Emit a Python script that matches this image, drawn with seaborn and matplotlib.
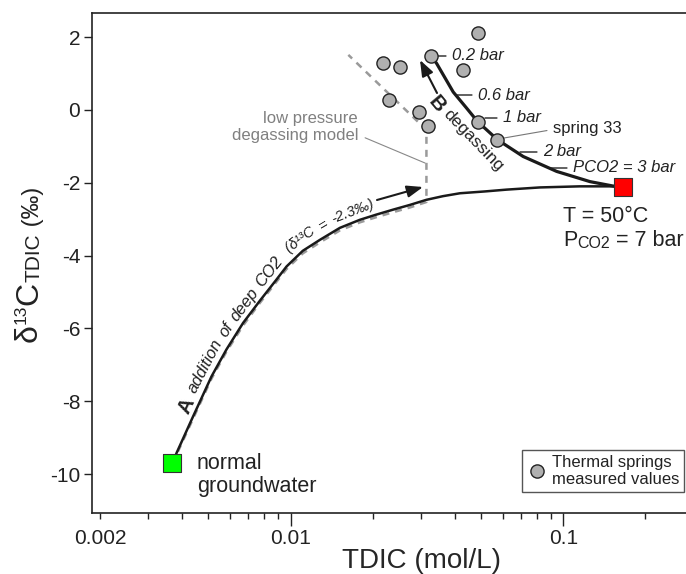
import numpy as np
import matplotlib
matplotlib.use("Agg")
import matplotlib.pyplot as plt
import matplotlib.transforms as mtransforms
from matplotlib.lines import Line2D
import seaborn as sns

# thermal springs, measured values (TDIC mol/L, d13C permil)
spring_tdic = [0.0488, 0.0327, 0.0219, 0.0253, 0.0428, 0.0230, 0.0296, 0.0320, 0.0485, 0.0574]
spring_d13c = [2.10, 1.48, 1.28, 1.19, 1.10, 0.27, -0.07, -0.44, -0.32, -0.82]

# end members
gw_tdic, gw_d13c = [0.00369], [-9.71]        # normal groundwater
deep_tdic, deep_d13c = [0.165], [-2.12]      # T = 50 C, PCO2 = 7 bar

# A: addition of deep CO2
mix_tdic = [0.00369, 0.00382, 0.00439, 0.00513, 0.00582, 0.00670, 0.00772, 0.00888, 0.00967,
            0.01109, 0.01281, 0.01517, 0.01794, 0.02055, 0.02377, 0.0274, 0.0315, 0.0362,
            0.0418, 0.0516, 0.0620, 0.0821, 0.115, 0.152, 0.165]
mix_d13c = [-9.71, -9.42, -8.42, -7.32, -6.58, -5.85, -5.24, -4.66, -4.30,
            -3.87, -3.57, -3.24, -3.02, -2.88, -2.74, -2.61, -2.47, -2.37,
            -2.29, -2.24, -2.19, -2.13, -2.10, -2.10, -2.12]

# low pressure degassing model (dashed)
lp_tdic = [0.00369, 0.00439, 0.00513, 0.00582, 0.00670, 0.00772, 0.00888, 0.00967, 0.01109,
           0.01281, 0.01517, 0.01794, 0.02055, 0.02377, 0.0274, 0.0315, 0.0315, 0.01629]
lp_d13c = [-9.71, -8.48, -7.38, -6.64, -5.92, -5.30, -4.72, -4.37, -3.94,
           -3.64, -3.31, -3.09, -2.95, -2.81, -2.68, -2.53, -0.55, 1.51]

# B: degassing
deg_tdic = [0.165, 0.152, 0.1253, 0.0946, 0.0713, 0.0574, 0.0485, 0.0442, 0.0395, 0.0343, 0.0327]
deg_d13c = [-2.12, -2.09, -1.97, -1.69, -1.28, -0.82, -0.32, 0.05, 0.49, 1.28, 1.48]

pressure_labels = ["0.2 bar", "0.6 bar", "1 bar", "2 bar", "PCO2 = 3 bar"]

sns.set_theme(style="ticks")
plt.rcParams["font.family"] = ["Liberation Sans", "DejaVu Sans"]
plt.rcParams["text.color"] = "#222222"
plt.rcParams["axes.unicode_minus"] = False

W, H = 686, 574
fig = plt.figure(figsize=(W / 100, H / 100), dpi=100)
ax = fig.add_axes([92 / W, (H - 513) / H, 594 / W, 500 / H])
ax.set_xscale("log")


def at(px, py):
    # reference pixel position -> axes fraction
    return ((px - 92) / 594, (513 - py) / 500)


sns.lineplot(x=lp_tdic, y=lp_d13c, sort=False, estimator=None, color="#9a9a9a",
             lw=1.8, linestyle=(0, (2.8, 2.4)), ax=ax)
sns.lineplot(x=mix_tdic, y=mix_d13c, sort=False, estimator=None, color="#1a1a1a", lw=1.8, ax=ax)
sns.lineplot(x=deg_tdic, y=deg_d13c, sort=False, estimator=None, color="#1a1a1a", lw=2.3, ax=ax)
sns.scatterplot(x=spring_tdic, y=spring_d13c, s=90, color="#b0b0b0", edgecolor="#222222",
                linewidth=1, zorder=5, ax=ax)
sns.scatterplot(x=gw_tdic, y=gw_d13c, marker="s", s=160, color="#00ff00", edgecolor="#333333",
                linewidth=0.8, zorder=6, ax=ax)
sns.scatterplot(x=deep_tdic, y=deep_d13c, marker="s", s=160, color="#ff0000", edgecolor="#333333",
                linewidth=0.8, zorder=6, ax=ax)

ax.set_xlim(0.00187, 0.282)
ax.set_ylim(-11.07, 2.66)

# axes and ticks
ax.spines["right"].set_visible(False)
for s in ["left", "bottom", "top"]:
    ax.spines[s].set_linewidth(1.2)
    ax.spines[s].set_color("#222222")
ax.set_xticks([0.01, 0.1], ["0.01", "0.1"])
minor = [k * 10.0 ** e for e in (-3, -2, -1) for k in range(2, 10)]
minor = [m for m in minor if 0.00187 < m < 0.282]
ax.set_xticks(minor, ["0.002" if abs(m - 0.002) < 1e-9 else "" for m in minor], minor=True)
ax.set_yticks([2, 0, -2, -4, -6, -8, -10])
ax.tick_params(axis="x", which="major", length=9.5, width=1, pad=2, labelsize=15,
               colors="#222222", top=False)
ax.tick_params(axis="x", which="minor", length=4.5, width=1, pad=7, labelsize=15,
               colors="#222222", top=False)
ax.tick_params(axis="y", which="major", length=5.5, width=1, pad=3, labelsize=15,
               colors="#222222", right=False)

ax.set_xlabel("TDIC (mol/L)", fontsize=20)
ax.xaxis.set_label_coords(*at(422, 548))
ax.set_ylabel("")

# y label pieces: delta, small 13, C, small TDIC, (permil)
kw90 = dict(rotation=90, annotation_clip=False)
t_d = fig.text(29 / W, (H - 342) / H, "δ", rotation=90, fontsize=23, ha="center", va="bottom")
t_13 = ax.annotate("13", xy=(0, 1), xycoords=t_d, ha="left", va="bottom", fontsize=12.5, **kw90)
t_c = ax.annotate("C", xy=(1, 1), xycoords=(t_d, t_13), ha="right", va="bottom", fontsize=23, **kw90)
t_s = ax.annotate("TDIC", xy=(1, 1), xycoords=t_c, ha="right", va="bottom", fontsize=15, **kw90)
ax.annotate(" (‰)", xy=(1, 1), xycoords=t_s, ha="right", va="bottom", fontsize=17, **kw90)

# pressure labels along curve B
label_px = [(452, 56, 438), (478, 95, 456), (503, 118, 485), (543, 152, 520), (573, 168, 551)]
for lab, (tx, ty, lx) in zip(pressure_labels, label_px):
    ax.annotate(lab, xy=at(lx, ty), xytext=at(tx, ty), xycoords="axes fraction",
                textcoords="axes fraction", ha="left", va="center", style="italic", fontsize=12,
                arrowprops=dict(arrowstyle="-", lw=1, color="#222222", shrinkA=2, shrinkB=0,
                                relpos=(0, 0.5)))

ax.annotate("spring 33", xy=at(504, 138), xytext=at(553, 128), xycoords="axes fraction",
            textcoords="axes fraction", ha="left", va="center", fontsize=12,
            arrowprops=dict(arrowstyle="-", lw=0.8, color="#777777", shrinkA=2, shrinkB=0,
                            relpos=(0, 0.4)))

ax.annotate("low pressure\ndegassing model", xy=at(425, 163), xytext=at(358, 127),
            xycoords="axes fraction", textcoords="axes fraction", ha="right", va="center",
            multialignment="right", fontsize=12, color="#808080", linespacing=1.1,
            arrowprops=dict(arrowstyle="-", lw=0.8, color="#888888", shrinkA=3, shrinkB=0,
                            relpos=(1, 0.25)))

# arrows
ax.annotate("", xy=at(423, 187), xytext=at(377, 200), xycoords="axes fraction",
            textcoords="axes fraction",
            arrowprops=dict(arrowstyle="-|>,head_length=0.8,head_width=0.3", color="#1a1a1a",
                            lw=1.5, mutation_scale=12, shrinkA=0, shrinkB=0))
ax.annotate("", xy=at(420, 60), xytext=at(437, 93), xycoords="axes fraction",
            textcoords="axes fraction",
            arrowprops=dict(arrowstyle="-|>,head_length=0.8,head_width=0.3", color="#1a1a1a",
                            lw=1.5, mutation_scale=12, shrinkA=0, shrinkB=0))

# B degassing
ax.text(*at(437, 104), "B", transform=ax.transAxes, fontsize=15, fontweight="bold",
        rotation=-50, ha="center", va="center")
ax.text(*at(473, 140), "degassing", transform=ax.transAxes, fontsize=12.5,
        rotation=-46, ha="center", va="center")

# end-member labels
ax.text(*at(197, 475), "normal\ngroundwater", transform=ax.transAxes, fontsize=15.5,
        ha="left", va="center", linespacing=1.1)
ax.text(*at(563, 217), "T = 50°C", transform=ax.transAxes, fontsize=15.5, ha="left", va="center")
p = ax.text(*at(563, 251), "P", transform=ax.transAxes, fontsize=15.5, ha="left", va="bottom")
c = ax.annotate("CO2", xy=(1, 0), xycoords=p, fontsize=11.5, ha="left", va="bottom")
ax.annotate(" = 7 bar", xy=(1, 0), xycoords=c, fontsize=15.5, ha="left", va="bottom")

# legend
handle = Line2D([], [], marker="o", ls="", markersize=9.5, markerfacecolor="#b0b0b0",
                markeredgecolor="#222222", markeredgewidth=1)
leg = ax.legend([handle], ["Thermal springs\nmeasured values"], loc="lower right",
                bbox_to_anchor=at(684, 492), fontsize=12, frameon=True, fancybox=False,
                framealpha=1, edgecolor="#555555", borderpad=0.3, handletextpad=0.3,
                borderaxespad=0, handlelength=1.2)
leg.get_frame().set_linewidth(1)


def words_along(xs, ys, words, start, offset):
    # place words along a data curve, rotated with the local direction
    r = fig.canvas.get_renderer()
    pts = ax.transData.transform(np.column_stack([xs, ys]))
    arc = np.r_[0, np.cumsum(np.hypot(*np.diff(pts, axis=0).T))]

    def point(s):
        return np.array([np.interp(s, arc, pts[:, 0]), np.interp(s, arc, pts[:, 1])])

    pos = start
    for word, size, kw in words:
        t = ax.text(0, 0, word, fontsize=size, transform=mtransforms.IdentityTransform(),
                    ha="center", va="center_baseline", rotation_mode="anchor", **kw)
        w = t.get_window_extent(r).width
        d = point(pos + w) - point(pos)
        d = d / np.hypot(*d)
        t.set_position(point(pos + w / 2) + offset * np.array([-d[1], d[0]]))
        t.set_rotation(np.degrees(np.arctan2(d[1], d[0])))
        pos += w + size * 0.3 * 100 / 72


it = {"style": "italic"}
words_along(mix_tdic, mix_d13c,
            [("A", 15, {"fontweight": "bold"}), ("addition", 12, it), ("of", 12, it),
             ("deep", 12, it), ("CO2", 12, it), (" (δ¹³C", 10.5, it), ("=", 10.5, it),
             ("-2.3‰)", 10.5, it)],
            start=51, offset=12)

fig.savefig("out.png", dpi=100)
